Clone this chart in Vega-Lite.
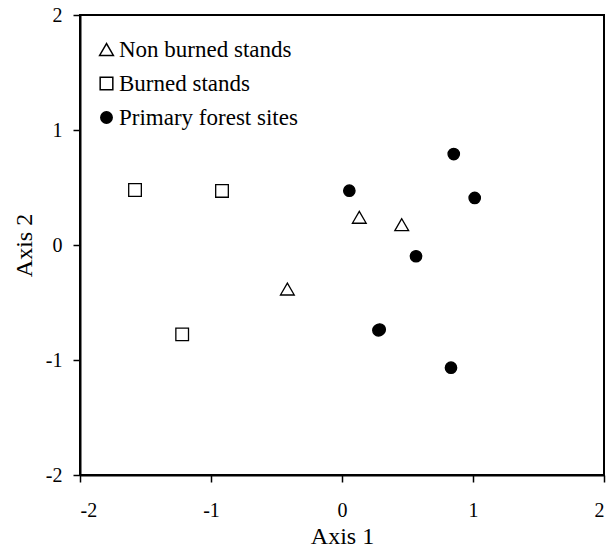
{
  "$schema": "https://vega.github.io/schema/vega-lite/v6.json",
  "autosize": {"type": "none"},
  "padding": {"left": 80, "top": 15, "right": 2, "bottom": 75},
  "width": 524,
  "height": 460,
  "background": "white",
  "config": {
    "view": {"stroke": "black", "strokeWidth": 2},
    "font": "Liberation Serif",
    "legend": {
      "labelFont": "Liberation Serif",
      "labelFontSize": 23,
      "labelColor": "black",
      "labelLimit": 0,
      "labelOffset": 1,
      "rowPadding": 10
    },
    "axis": {
      "grid": false,
      "domainColor": "black",
      "domainWidth": 2,
      "tickColor": "black",
      "tickWidth": 1.5,
      "tickSize": 7,
      "labelColor": "black",
      "titleColor": "black",
      "labelFont": "Liberation Serif",
      "titleFont": "Liberation Serif",
      "labelFontSize": 20,
      "titleFontSize": 24,
      "titleFontWeight": "normal",
      "labelExpr": "toString(datum.value)"
    }
  },
  "data": {
    "values": [
      {"axis1": -0.417, "axis2": -0.383, "group": "Non burned stands"},
      {"axis1": 0.132, "axis2": 0.241, "group": "Non burned stands"},
      {"axis1": 0.456, "axis2": 0.177, "group": "Non burned stands"},
      {"axis1": -1.58, "axis2": 0.478, "group": "Burned stands"},
      {"axis1": -0.916, "axis2": 0.47, "group": "Burned stands"},
      {"axis1": -1.22, "axis2": -0.777, "group": "Burned stands"},
      {"axis1": 0.853, "axis2": 0.791, "group": "Primary forest sites"},
      {"axis1": 0.056, "axis2": 0.472, "group": "Primary forest sites"},
      {"axis1": 1.013, "axis2": 0.409, "group": "Primary forest sites"},
      {"axis1": 0.565, "axis2": -0.098, "group": "Primary forest sites"},
      {"axis1": 0.278, "axis2": -0.742, "group": "Primary forest sites"},
      {"axis1": 0.288, "axis2": -0.735, "group": "Primary forest sites"},
      {"axis1": 0.832, "axis2": -1.067, "group": "Primary forest sites"}
    ]
  },
  "mark": {"type": "point", "filled": true, "stroke": "black", "strokeWidth": 1.3, "opacity": 1},
  "encoding": {
    "x": {
      "field": "axis1", "type": "quantitative",
      "scale": {"domain": [-2, 2], "nice": false, "zero": false},
      "axis": {"values": [-2, -1, 0, 1, 2], "title": "Axis 1", "labelPadding": 18, "titlePadding": 4}
    },
    "y": {
      "field": "axis2", "type": "quantitative",
      "scale": {"domain": [-2, 2], "nice": false, "zero": false},
      "axis": {"values": [-2, -1, 0, 1, 2], "title": "Axis 2", "labelPadding": 11, "titlePadding": 9}
    },
    "shape": {
      "field": "group", "type": "nominal",
      "scale": {"domain": ["Non burned stands", "Burned stands", "Primary forest sites"], "range": ["triangle-up", "square", "circle"]},
      "legend": {"title": null, "orient": "none", "legendX": 15, "legendY": 23,
        "encode": {"symbols": {"update": {"stroke": {"value": "black"}, "strokeWidth": {"value": 1.3}}}}}
    },
    "fill": {
      "field": "group", "type": "nominal",
      "scale": {"domain": ["Non burned stands", "Burned stands", "Primary forest sites"], "range": ["transparent", "transparent", "black"]},
      "legend": {"title": null, "orient": "none", "legendX": 15, "legendY": 23,
        "encode": {"symbols": {"update": {"stroke": {"value": "black"}, "strokeWidth": {"value": 1.3}}}}}
    },
    "size": {
      "field": "group", "type": "nominal",
      "scale": {"domain": ["Non burned stands", "Burned stands", "Primary forest sites"], "range": [190, 130, 225]},
      "legend": {"title": null, "orient": "none", "legendX": 15, "legendY": 23,
        "encode": {"symbols": {"update": {"stroke": {"value": "black"}, "strokeWidth": {"value": 1.3}}}}}
    }
  }
}
